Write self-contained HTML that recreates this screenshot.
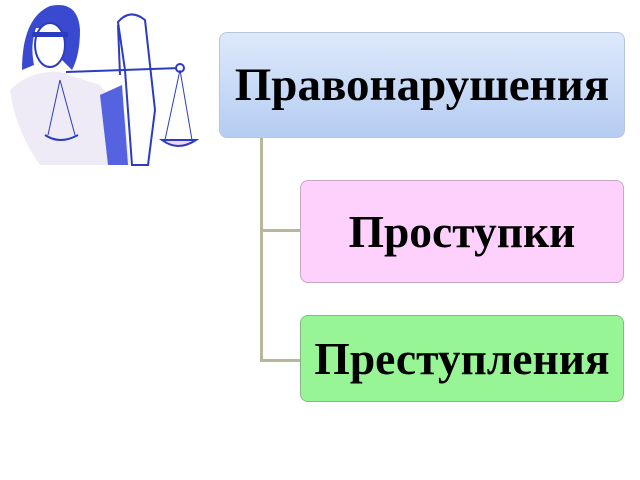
<!DOCTYPE html>
<html><head><meta charset="utf-8"><style>
html,body{margin:0;padding:0;background:#fff;}
body{width:640px;height:480px;position:relative;overflow:hidden;font-family:"Liberation Serif",serif;}
.box{position:absolute;border-radius:8px;box-sizing:border-box;display:flex;align-items:center;justify-content:center;font-weight:bold;color:#000;}
#b1{left:219px;top:32px;width:406px;height:106px;background:linear-gradient(#dde9fb,#b5cdf2);border:1px solid #b8c6dc;font-size:47px;}
#b2{left:300px;top:180px;width:324px;height:103px;background:#fdd1fb;border:1px solid #c9a5c6;font-size:45.5px;}
#b3{left:300px;top:315px;width:324px;height:87px;background:#98f595;border:1px solid #86b886;font-size:45.5px;}
.ln{position:absolute;background:#b9b69a;}
</style></head><body>
<div class="ln" style="left:260px;top:138px;width:3px;height:224px"></div>
<div class="ln" style="left:260px;top:229px;width:40px;height:3px"></div>
<div class="ln" style="left:260px;top:359px;width:40px;height:3px"></div>
<div class="box" id="b1">Правонарушения</div>
<div class="box" id="b2">Проступки</div>
<div class="box" id="b3">Преступления</div>
<svg width="210" height="170" style="position:absolute;left:0;top:0">
<path d="M10 90 Q30 70 60 72 L100 85 L125 115 L130 165 L40 165 Q15 130 10 90 Z" fill="#eeebf7"/>
<path d="M100 95 L122 85 L128 165 L108 165 Z" fill="#5563e0"/>
<path d="M22 70 Q22 18 50 6 Q78 0 80 30 Q80 55 72 70 L62 60 Q66 40 60 28 L36 28 Q30 45 34 65 Z" fill="#3a4ad0"/>
<ellipse cx="50" cy="45" rx="15" ry="22" fill="#fff" stroke="#2c3cc0" stroke-width="2"/>
<rect x="32" y="32" width="36" height="5" fill="#2c3cc0"/>
<path d="M118 22 Q130 8 145 20 L155 110 L148 165 L132 165 L125 70 Z" fill="#fff" stroke="#2c3cc0" stroke-width="2"/>
<line x1="66" y1="72" x2="180" y2="68" stroke="#2c3cc0" stroke-width="2"/>
<circle cx="180" cy="68" r="4" fill="#fff" stroke="#2c3cc0" stroke-width="2"/>
<line x1="118" y1="25" x2="120" y2="75" stroke="#2c3cc0" stroke-width="2"/>
<path d="M180 70 L165 140 M180 70 L192 140" stroke="#2c3cc0" stroke-width="1"/>
<path d="M162 140 Q178 152 196 140 Z" fill="#f0d8ee" stroke="#2c3cc0" stroke-width="2"/>
<path d="M60 80 L48 135 M60 80 L75 135" stroke="#2c3cc0" stroke-width="1"/>
<path d="M45 135 Q60 145 78 135" fill="none" stroke="#2c3cc0" stroke-width="2"/>
</svg>
</body></html>
